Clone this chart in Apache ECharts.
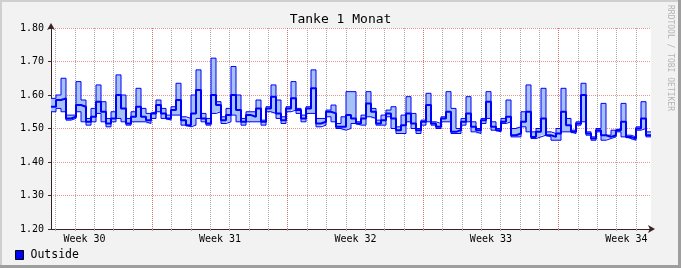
<!DOCTYPE html>
<html><head><meta charset="utf-8">
<script src="https://cdn.jsdelivr.net/npm/echarts@6/dist/echarts.min.js"></script>
<style>html,body{margin:0;padding:0;background:#F2F2F2}#c{width:681px;height:268px}</style>
</head><body><div id="c"></div>
<script>
const chartTitle = 'Tanke 1 Monat';
const seriesName = 'Outside';
const weekLabels = ['Week 30', 'Week 31', 'Week 32', 'Week 33', 'Week 34'];
const yMin = 1.2, yMax = 1.8, yStep = 0.1;
// time axis in days from the left edge of the plot
const spanDays = 31;
const firstDayBoundary = 0.77;   // days before plot start of the previous midnight
const firstMonday = 5.23;        // days after plot start
const firstWeekMid = 1.73;       // days after plot start (label position)
const avgValues = [
 1.565,1.585,1.59,1.53,1.535,1.57,1.565,1.52,1.535,1.58,1.55,1.515,1.53,1.60,1.56,1.515,1.535,1.565,1.535,1.525,
 1.545,1.57,1.545,1.53,1.555,1.585,1.525,1.51,1.545,1.615,1.53,1.515,1.60,1.57,1.525,1.54,1.60,1.555,1.52,1.54,
 1.535,1.56,1.52,1.56,1.595,1.545,1.525,1.56,1.59,1.555,1.53,1.56,1.62,1.515,1.52,1.55,1.545,1.505,1.505,1.54,
 1.53,1.515,1.53,1.575,1.55,1.515,1.525,1.545,1.53,1.495,1.51,1.545,1.515,1.495,1.52,1.57,1.515,1.505,1.53,1.55,
 1.49,1.495,1.52,1.545,1.505,1.495,1.525,1.58,1.505,1.495,1.52,1.535,1.48,1.485,1.52,1.55,1.475,1.49,1.53,1.48,
 1.475,1.485,1.55,1.51,1.49,1.515,1.60,1.485,1.47,1.495,1.48,1.475,1.48,1.495,1.52,1.475,1.47,1.50,1.53,1.48
];
const maxValues = [
 1.59,1.60,1.65,1.54,1.54,1.64,1.585,1.53,1.56,1.63,1.58,1.53,1.55,1.66,1.60,1.53,1.55,1.62,1.56,1.545,
 1.55,1.585,1.56,1.54,1.565,1.635,1.535,1.53,1.60,1.675,1.545,1.53,1.71,1.58,1.535,1.56,1.685,1.60,1.53,1.55,
 1.55,1.585,1.525,1.565,1.63,1.585,1.535,1.565,1.64,1.56,1.54,1.565,1.675,1.53,1.53,1.555,1.57,1.515,1.535,1.61,
 1.61,1.52,1.54,1.61,1.56,1.525,1.54,1.555,1.565,1.505,1.54,1.595,1.545,1.50,1.525,1.605,1.52,1.515,1.535,1.61,
 1.56,1.50,1.53,1.595,1.52,1.50,1.53,1.61,1.52,1.50,1.53,1.585,1.50,1.505,1.55,1.63,1.49,1.50,1.62,1.49,
 1.485,1.50,1.62,1.53,1.495,1.52,1.635,1.49,1.475,1.50,1.575,1.48,1.495,1.50,1.575,1.48,1.475,1.505,1.58,1.49
];
const minValues = [
 1.55,1.56,1.55,1.525,1.53,1.55,1.52,1.51,1.52,1.545,1.52,1.505,1.52,1.53,1.52,1.51,1.52,1.52,1.52,1.515,
 1.53,1.55,1.53,1.525,1.54,1.54,1.51,1.505,1.51,1.53,1.52,1.51,1.545,1.55,1.515,1.52,1.54,1.52,1.51,1.52,
 1.52,1.52,1.51,1.55,1.545,1.53,1.515,1.55,1.555,1.545,1.52,1.545,1.545,1.505,1.51,1.535,1.52,1.50,1.495,1.50,
 1.515,1.51,1.51,1.535,1.53,1.51,1.51,1.535,1.50,1.485,1.485,1.52,1.50,1.485,1.51,1.52,1.51,1.50,1.52,1.52,
 1.485,1.485,1.51,1.52,1.49,1.485,1.515,1.53,1.495,1.49,1.515,1.52,1.475,1.475,1.505,1.49,1.47,1.475,1.48,1.475,
 1.465,1.465,1.49,1.49,1.485,1.51,1.52,1.48,1.465,1.49,1.465,1.47,1.475,1.49,1.475,1.47,1.465,1.495,1.50,1.475
];

const stepDays = spanDays / avgValues.length;
function toPairs(arr) {
  const d = arr.map((v, i) => [i * stepDays, v]);
  d.push([arr.length * stepDays, arr[arr.length - 1]]);
  return d;
}
const bandData = minValues.map((v, i) => [i * stepDays, (i + 1) * stepDays, v, maxValues[i]]);

const FONT = 'DejaVu Sans Mono';
const BLUE = '#0000FF';
const chart = echarts.init(document.getElementById('c'), null, {renderer: 'canvas'});
const gridColor = 'rgba(143,143,143,0.75)';
const mgridColor = 'rgba(222,79,79,0.6)';

// plot geometry
const PL = 51, PW = 600, PT = 28, PB = 39, W = 681;
const pxPerDay = PW / spanDays;
function gridFromDays(offsetDays) { // grid whose axis 0 sits offsetDays before the plot's left edge
  const left = PL - offsetDays * pxPerDay;
  return {left: left, right: W - PL - PW, span: (PL + PW - left) / pxPerDay};
}
const gDay = gridFromDays(firstDayBoundary);
const gWeek = gridFromDays(7 - firstMonday);
const gLab = gridFromDays(-firstWeekMid);

chart.setOption({
  backgroundColor: '#F2F2F2',
  animation: false,
  title: {
    text: chartTitle, left: 'center', top: 13, padding: 0,
    textStyle: {fontFamily: FONT, fontSize: 13, fontWeight: 'normal', color: '#000'}
  },
  legend: {
    left: 15, top: 249, padding: 0, itemWidth: 8, itemHeight: 9, itemGap: 10,
    data: [{name: seriesName, icon: 'rect', itemStyle: {color: BLUE, borderColor: '#000', borderWidth: 1}}],
    textStyle: {fontFamily: FONT, fontSize: 11.5, color: '#000', padding: [0, 0, 0, 2]}
  },
  grid: [
    {left: PL, right: W - PL - PW, top: PT, bottom: PB, show: true, backgroundColor: '#FFFFFF', borderWidth: 0},
    {left: gDay.left, right: gDay.right, top: PT, bottom: PB, show: false},
    {left: gWeek.left, right: gWeek.right, top: PT, bottom: PB, show: false},
    {left: gLab.left, right: gLab.right, top: PT, bottom: PB, show: false}
  ],
  xAxis: [
    { // data axis
      gridIndex: 0, type: 'value', position: 'bottom', min: 0, max: spanDays,
      axisLine: {show: true, onZero: false, symbol: ['none', 'arrow'], symbolSize: [6, 7], symbolOffset: [0, 4],
        lineStyle: {color: '#3a2222', width: 1}},
      axisLabel: {show: false}, axisTick: {show: false}, splitLine: {show: false}
    },
    { // daily minor grid
      gridIndex: 1, type: 'value', position: 'bottom', min: 0, max: gDay.span, interval: 1,
      axisLine: {show: false}, axisLabel: {show: false},
      axisTick: {show: true, length: 2, lineStyle: {color: '#aaa'}},
      splitLine: {show: true, showMinLine: false, showMaxLine: false, lineStyle: {color: gridColor, type: [1, 1], width: 1}}
    },
    { // weekly major grid
      gridIndex: 2, type: 'value', position: 'bottom', min: 0, max: gWeek.span, interval: 7,
      axisLine: {show: false}, axisLabel: {show: false}, axisTick: {show: false},
      splitLine: {show: true, showMinLine: false, showMaxLine: false, lineStyle: {color: mgridColor, type: [1, 1], width: 1}}
    },
    { // week labels (mid-week)
      gridIndex: 3, type: 'value', position: 'bottom', min: 0, max: gLab.span, interval: 7,
      axisLine: {show: false}, axisTick: {show: false}, splitLine: {show: false},
      axisLabel: {
        show: true, margin: 5, showMinLabel: true, showMaxLabel: true,
        fontFamily: FONT, fontSize: 10, color: '#000',
        formatter: function (v) {
          const k = Math.round(v / 7);
          return (Math.abs(v - k * 7) < 1e-6 && weekLabels[k]) ? weekLabels[k] : '';
        }
      }
    }
  ],
  yAxis: [
    {
      gridIndex: 0, type: 'value', min: yMin, max: yMax, interval: yStep,
      axisLine: {show: true, symbol: ['none', 'arrow'], symbolSize: [6, 7], symbolOffset: [0, 5],
        lineStyle: {color: '#3a2222', width: 1}},
      axisTick: {show: true, length: 3, lineStyle: {color: '#333'}},
      axisLabel: {margin: 7, fontFamily: FONT, fontSize: 10, color: '#000', formatter: v => v.toFixed(2)},
      splitLine: {show: true, lineStyle: {color: mgridColor, type: [1, 1], width: 1}}
    },
    {gridIndex: 1, type: 'value', min: 0, max: 1, show: false},
    {gridIndex: 2, type: 'value', min: 0, max: 1, show: false},
    {gridIndex: 3, type: 'value', min: 0, max: 1, show: false}
  ],
  series: [
    {name: 'band', type: 'custom', xAxisIndex: 0, yAxisIndex: 0, silent: true,
     data: bandData, encode: {x: [0, 1], y: [2, 3]},
     renderItem: function (params, api) {
       const p0 = api.coord([api.value(0), api.value(3)]);
       const p1 = api.coord([api.value(1), api.value(2)]);
       return {type: 'rect', shape: {x: p0[0], y: p0[1], width: p1[0] - p0[0], height: p1[1] - p0[1]},
               style: {fill: '#a6c2f4'}};
     }},
    {name: 'min', type: 'line', step: 'end', symbol: 'none', data: toPairs(minValues),
     lineStyle: {color: BLUE, width: 1}},
    {name: 'max', type: 'line', step: 'end', symbol: 'none', data: toPairs(maxValues),
     lineStyle: {color: BLUE, width: 1}},
    {name: seriesName, type: 'line', step: 'end', symbol: 'none', data: toPairs(avgValues),
     color: BLUE, lineStyle: {color: BLUE, width: 2}}
  ],
  graphic: [
    {type: 'rect', shape: {x: 0, y: 0, width: 681, height: 2}, style: {fill: '#CFCFCF'}, silent: true},
    {type: 'rect', shape: {x: 0, y: 0, width: 2, height: 268}, style: {fill: '#CFCFCF'}, silent: true},
    {type: 'rect', shape: {x: 678, y: 0, width: 3, height: 268}, style: {fill: '#9E9E9E'}, silent: true},
    {type: 'rect', shape: {x: 0, y: 265, width: 681, height: 3}, style: {fill: '#9E9E9E'}, silent: true},
    {type: 'text', x: 674, y: 5, rotation: -Math.PI / 2,
     style: {text: 'RRDTOOL / TOBI OETIKER', fontFamily: FONT, fontSize: 8, fill: '#B4B4B4', textAlign: 'left', textVerticalAlign: 'top'}}
  ]
});
</script></body></html>
